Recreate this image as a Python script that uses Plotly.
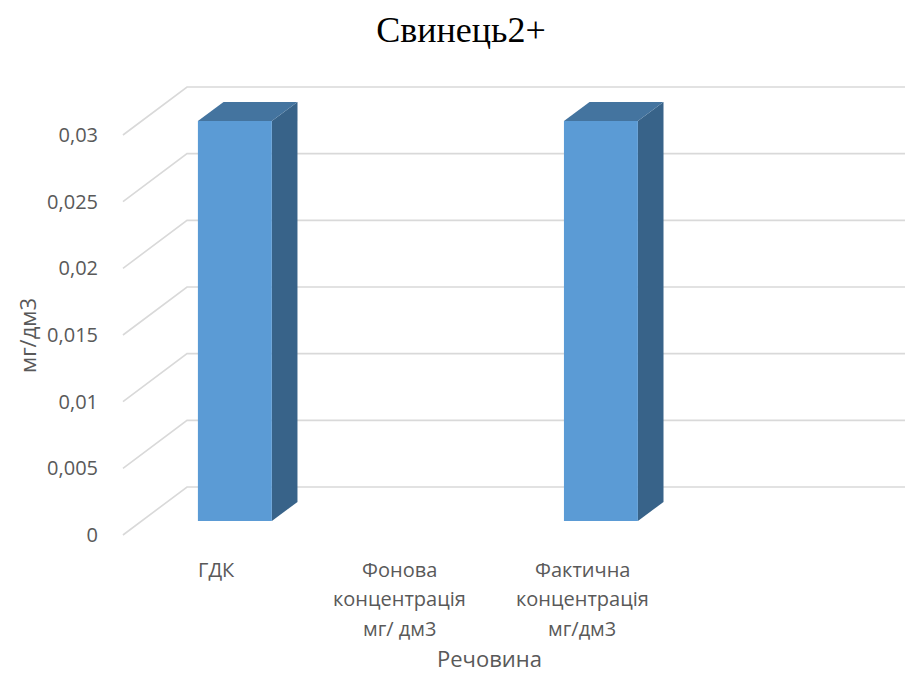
import plotly.graph_objects as go

# Chart data
categories = ["ГДК", "Фонова<br>концентрація<br>мг/ дм3", "Фактична<br>концентрація<br>мг/дм3"]
values = [0.03, 0, 0.03]
y_tick_vals = [0, 0.005, 0.01, 0.015, 0.02, 0.025, 0.03]
y_tick_text = ["0", "0,005", "0,01", "0,015", "0,02", "0,025", "0,03"]

# Oblique projection used to fake the 3-D look (axis units)
DEPTH_X = 0.35        # horizontal shift from front to back wall
DEPTH_Y = 0.0036      # vertical shift from front to back wall
WALL_LEFT = -0.51
WALL_RIGHT = 3.9
BAR_HALF = 0.202      # half width of a column
BAR_FRONT = 0.29      # depth fraction of column front face
BAR_BACK = 0.69       # depth fraction of column back face

FRONT_COLOR = "#5b9bd5"
TOP_COLOR = "#44749f"
SIDE_COLOR = "#386389"
GRID_COLOR = "#d9d9d9"
TEXT_COLOR = "#595959"

fig = go.Figure()

# Gridlines: a diagonal on the side wall, then across the back wall
gx, gy = [], []
for v in y_tick_vals:
    gx += [WALL_LEFT, WALL_LEFT + DEPTH_X, WALL_RIGHT, None]
    gy += [v, v + DEPTH_Y, v + DEPTH_Y, None]
fig.add_trace(go.Scatter(x=gx, y=gy, mode="lines", hoverinfo="skip",
                         line=dict(color=GRID_COLOR, width=1.6)))


def shift(d):
    return d * DEPTH_X, d * DEPTH_Y


for i, v in enumerate(values):
    if v <= 0:
        continue
    fx, fy = shift(BAR_FRONT)
    bx, by = shift(BAR_BACK)
    xl, xr = i - BAR_HALF, i + BAR_HALF
    # right side face
    fig.add_trace(go.Scatter(
        x=[xr + fx, xr + bx, xr + bx, xr + fx, xr + fx],
        y=[fy, by, v + by, v + fy, fy],
        mode="lines", fill="toself", fillcolor=SIDE_COLOR,
        line=dict(width=0, color=SIDE_COLOR), hoverinfo="skip"))
    # top face
    fig.add_trace(go.Scatter(
        x=[xl + fx, xr + fx, xr + bx, xl + bx, xl + fx],
        y=[v + fy, v + fy, v + by, v + by, v + fy],
        mode="lines", fill="toself", fillcolor=TOP_COLOR,
        line=dict(width=0, color=TOP_COLOR), hoverinfo="skip"))
    # front face
    fig.add_trace(go.Scatter(
        x=[xl + fx, xr + fx, xr + fx, xl + fx, xl + fx],
        y=[fy, fy, v + fy, v + fy, fy],
        mode="lines", fill="toself", fillcolor=FRONT_COLOR,
        line=dict(width=0, color=FRONT_COLOR), hoverinfo="text",
        text=f"{v}"))

L, R, T, B = 114, 0, 75, 134
W, H = 905, 673
PW, PH = W - L - R, H - T - B


def px_y(py):
    return (H - B - py) / PH


def px_x(px):
    return (px - L) / PW


annotations = []
# Category labels, one annotation per line for Excel-like line spacing
LINE_Y = [569, 598, 628]
for i, label in enumerate(categories):
    for k, line in enumerate(label.split("<br>")):
        annotations.append(dict(
            text=line, x=i, xref="x", y=px_y(LINE_Y[k]), yref="paper",
            xanchor="center", yanchor="middle", showarrow=False,
            font=dict(family="Open Sans", size=20, color=TEXT_COLOR)))

annotations += [
    dict(text="мг/дм3", textangle=-90, xref="paper", yref="paper",
         x=px_x(27), y=px_y(336), xanchor="center", yanchor="middle",
         showarrow=False,
         font=dict(family="Open Sans", size=22, color=TEXT_COLOR)),
    dict(text="Речовина", xref="paper", yref="paper",
         x=px_x(489), y=px_y(658), xanchor="center", yanchor="middle",
         showarrow=False,
         font=dict(family="Open Sans", size=22, color=TEXT_COLOR)),
]

fig.update_layout(
    width=W, height=H,
    margin=dict(l=L, r=R, t=T, b=B, pad=0),
    paper_bgcolor="white", plot_bgcolor="white",
    showlegend=False,
    font=dict(family="Open Sans", size=20, color=TEXT_COLOR),
    title=dict(text="Свинець2+", x=461 / W, xanchor="center",
               y=1 - 29 / H, yanchor="middle",
               font=dict(family="Liberation Serif", size=36, color="black")),
    xaxis=dict(range=[-0.559, 3.763], showgrid=False, zeroline=False,
               showline=False, showticklabels=False),
    yaxis=dict(range=[-0.0003, 0.0345], showgrid=False, zeroline=False,
               showline=False, tickmode="array", tickvals=y_tick_vals,
               ticktext=y_tick_text, ticks="outside", ticklen=11,
               tickcolor="rgba(0,0,0,0)",
               tickfont=dict(family="Open Sans", size=20, color=TEXT_COLOR)),
    annotations=annotations,
)

fig.write_html("out.html")
